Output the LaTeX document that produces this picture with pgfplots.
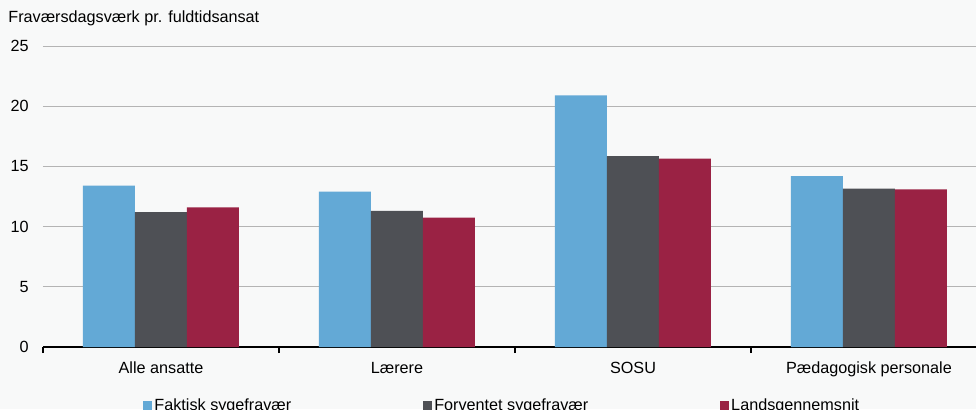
\documentclass[border=0pt]{standalone}
\usepackage{pgfplots}
\pgfplotsset{compat=1.18}
\usepackage{fontspec}
\setmainfont{Liberation Sans}
\definecolor{cblue}{HTML}{63A9D6}
\definecolor{cgray}{HTML}{4E5055}
\definecolor{cred}{HTML}{9A2244}
\definecolor{bg}{HTML}{F8F9F9}
\definecolor{gridc}{HTML}{B4B4B4}
\begin{document}
\begin{tikzpicture}
\fill[bg] (-21.5pt,-31pt) rectangle (466.5pt,173.5pt);
\begin{axis}[
  at={(0pt,0pt)}, anchor=south west,
  scale only axis, width=472pt, height=150.5pt,
  font=\fontsize{8.1}{9.5}\selectfont,
  /pgf/number format/assume math mode=true,
  ybar=0pt, bar width=26pt,
  xmin=-0.5, xmax=3.5, ymin=0, ymax=25,
  ytick={0,5,...,25},
  ymajorgrids, grid style={gridc, line width=0.5pt},
  axis y line*=left, y axis line style={draw=none},
  axis x line*=bottom, x axis line style={black, line width=1pt, -},
  ytick style={draw=none},
  yticklabel style={anchor=east, inner sep=0pt, xshift=-7pt},
  xtick={0,1,2,3},
  xticklabels={Alle ansatte, Lærere, SOSU, Pædagogisk personale},
  xtick style={draw=none},
  xticklabel style={anchor=base, inner sep=0pt, yshift=-9pt},
  extra x ticks={-0.5,0.5,1.5,2.5,3.5},
  extra x tick labels={},
  extra x tick style={tick align=outside, major tick length=3pt, xtick style={black, line width=0.75pt, draw=black}, grid=none},
  every axis y label/.style={at={(axis description cs:-0.0371,1.0797)}, anchor=base west, inner sep=0pt},
  ylabel={Fraværsdagsværk pr. fuldtidsansat},
  legend columns=3,
  legend style={draw=none, fill=none, at={(0.106,-0.163)}, anchor=north west, inner sep=0pt,
    nodes={inner sep=1pt},
    /tikz/every even column/.append style={column sep=65pt}},
  legend image code/.code={\fill[#1] (0pt,-2.25pt) rectangle (4.5pt,2.25pt);},
  every axis plot/.append style={draw=none},
]
\addplot[fill=cblue] coordinates {(0,13.4) (1,12.9) (2,20.9) (3,14.2)};
\addplot[fill=cgray] coordinates {(0,11.2) (1,11.3) (2,15.85) (3,13.15)};
\addplot[fill=cred] coordinates {(0,11.6) (1,10.75) (2,15.65) (3,13.1)};
\legend{Faktisk sygefravær, Forventet sygefravær, Landsgennemsnit}
\end{axis}
\pgfresetboundingbox
\useasboundingbox (-21.5pt,-31pt) rectangle (466.5pt,173.5pt);
\end{tikzpicture}
\end{document}
